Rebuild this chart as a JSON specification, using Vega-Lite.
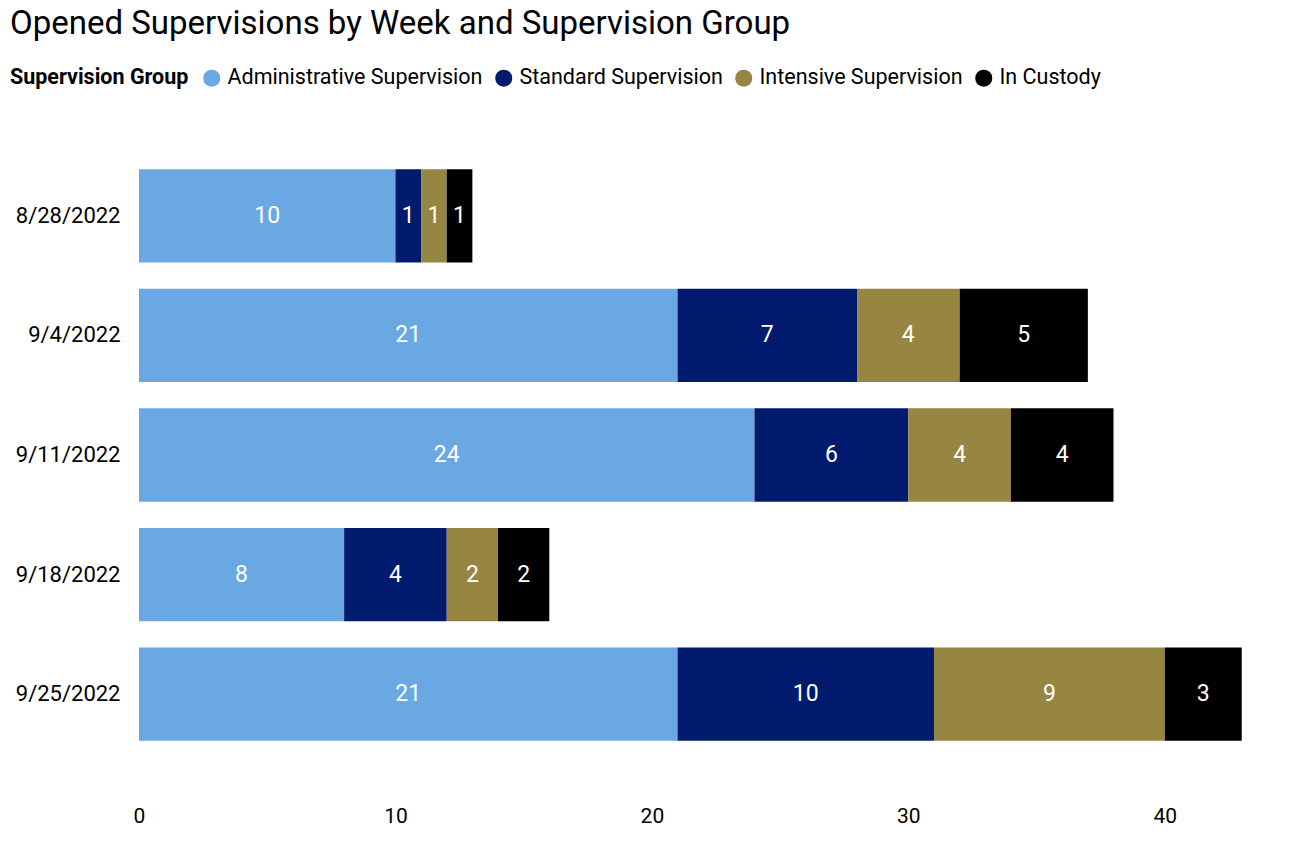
{
  "$schema": "https://vega.github.io/schema/vega-lite/v6.json",
  "autosize": {"type": "none"},
  "width": 1154,
  "height": 610,
  "padding": {"left": 139, "top": 150, "right": 15, "bottom": 83},
  "background": "white",
  "config": {
    "font": "Roboto",
    "view": {"stroke": null}
  },
  "title": {
    "text": "Opened Supervisions by Week and Supervision Group",
    "anchor": "start",
    "frame": "group",
    "dx": -129,
    "dy": 3,
    "fontSize": 33,
    "fontWeight": "normal",
    "color": "#000000",
    "font": "Roboto",
    "baseline": "alphabetic",
    "offset": 3
  },
  "data": {
    "values": [
      {"week": "8/28/2022", "group": "Administrative Supervision", "groupOrder": 1, "count": 10},
      {"week": "8/28/2022", "group": "Standard Supervision", "groupOrder": 2, "count": 1},
      {"week": "8/28/2022", "group": "Intensive Supervision", "groupOrder": 3, "count": 1},
      {"week": "8/28/2022", "group": "In Custody", "groupOrder": 4, "count": 1},
      {"week": "9/4/2022", "group": "Administrative Supervision", "groupOrder": 1, "count": 21},
      {"week": "9/4/2022", "group": "Standard Supervision", "groupOrder": 2, "count": 7},
      {"week": "9/4/2022", "group": "Intensive Supervision", "groupOrder": 3, "count": 4},
      {"week": "9/4/2022", "group": "In Custody", "groupOrder": 4, "count": 5},
      {"week": "9/11/2022", "group": "Administrative Supervision", "groupOrder": 1, "count": 24},
      {"week": "9/11/2022", "group": "Standard Supervision", "groupOrder": 2, "count": 6},
      {"week": "9/11/2022", "group": "Intensive Supervision", "groupOrder": 3, "count": 4},
      {"week": "9/11/2022", "group": "In Custody", "groupOrder": 4, "count": 4},
      {"week": "9/18/2022", "group": "Administrative Supervision", "groupOrder": 1, "count": 8},
      {"week": "9/18/2022", "group": "Standard Supervision", "groupOrder": 2, "count": 4},
      {"week": "9/18/2022", "group": "Intensive Supervision", "groupOrder": 3, "count": 2},
      {"week": "9/18/2022", "group": "In Custody", "groupOrder": 4, "count": 2},
      {"week": "9/25/2022", "group": "Administrative Supervision", "groupOrder": 1, "count": 21},
      {"week": "9/25/2022", "group": "Standard Supervision", "groupOrder": 2, "count": 10},
      {"week": "9/25/2022", "group": "Intensive Supervision", "groupOrder": 3, "count": 9},
      {"week": "9/25/2022", "group": "In Custody", "groupOrder": 4, "count": 3}
    ]
  },
  "encoding": {
    "y": {
      "field": "week",
      "type": "nominal",
      "sort": null,
      "scale": {"paddingInner": 0.22, "paddingOuter": 0.16},
      "axis": {
        "title": null,
        "domain": false,
        "ticks": false,
        "grid": false,
        "labelPadding": 19,
        "labelFontSize": 22,
        "labelColor": "#000000",
        "labelFont": "Roboto"
      }
    }
  },
  "layer": [
    {
      "mark": {"type": "bar"},
      "encoding": {
        "x": {
          "field": "count",
          "type": "quantitative",
          "stack": "zero",
          "scale": {"domain": [0, 45], "nice": false},
          "axis": {
            "title": null,
            "domain": false,
            "ticks": false,
            "grid": false,
            "values": [0, 10, 20, 30, 40],
            "labelFlush": false,
            "labelPadding": 45,
            "labelFontSize": 21,
            "labelColor": "#000000",
            "labelFont": "Roboto"
          }
        },
        "order": {"field": "groupOrder", "type": "quantitative", "sort": "ascending"},
        "color": {
          "field": "group",
          "type": "nominal",
          "sort": ["Administrative Supervision", "Standard Supervision", "Intensive Supervision", "In Custody"],
          "scale": {
            "domain": ["Administrative Supervision", "Standard Supervision", "Intensive Supervision", "In Custody"],
            "range": ["#69A8E3", "#001A6E", "#978542", "#000000"]
          },
          "legend": {
            "title": "Supervision Group",
            "orient": "none",
            "legendX": -129,
            "legendY": -83,
            "direction": "horizontal",
            "titleOrient": "left",
            "titleFontSize": 21.5,
            "titleFontWeight": "bold",
            "titleColor": "#000000",
            "titlePadding": 12,
            "titleFont": "Roboto",
            "symbolType": "circle",
            "symbolSize": 289,
            "symbolOpacity": 1,
            "symbolStrokeWidth": 0,
            "labelFontSize": 21.5,
            "labelLimit": 500,
            "labelColor": "#000000",
            "labelFont": "Roboto",
            "labelOffset": 5,
            "columnPadding": 10
          }
        }
      }
    },
    {
      "mark": {"type": "text", "color": "white", "fontSize": 23, "baseline": "middle", "align": "center"},
      "encoding": {
        "x": {"field": "count", "type": "quantitative", "stack": "zero", "bandPosition": 0.5},
        "order": {"field": "groupOrder", "type": "quantitative", "sort": "ascending"},
        "detail": {"field": "group", "type": "nominal"},
        "text": {"field": "count", "type": "quantitative"}
      }
    }
  ]
}
